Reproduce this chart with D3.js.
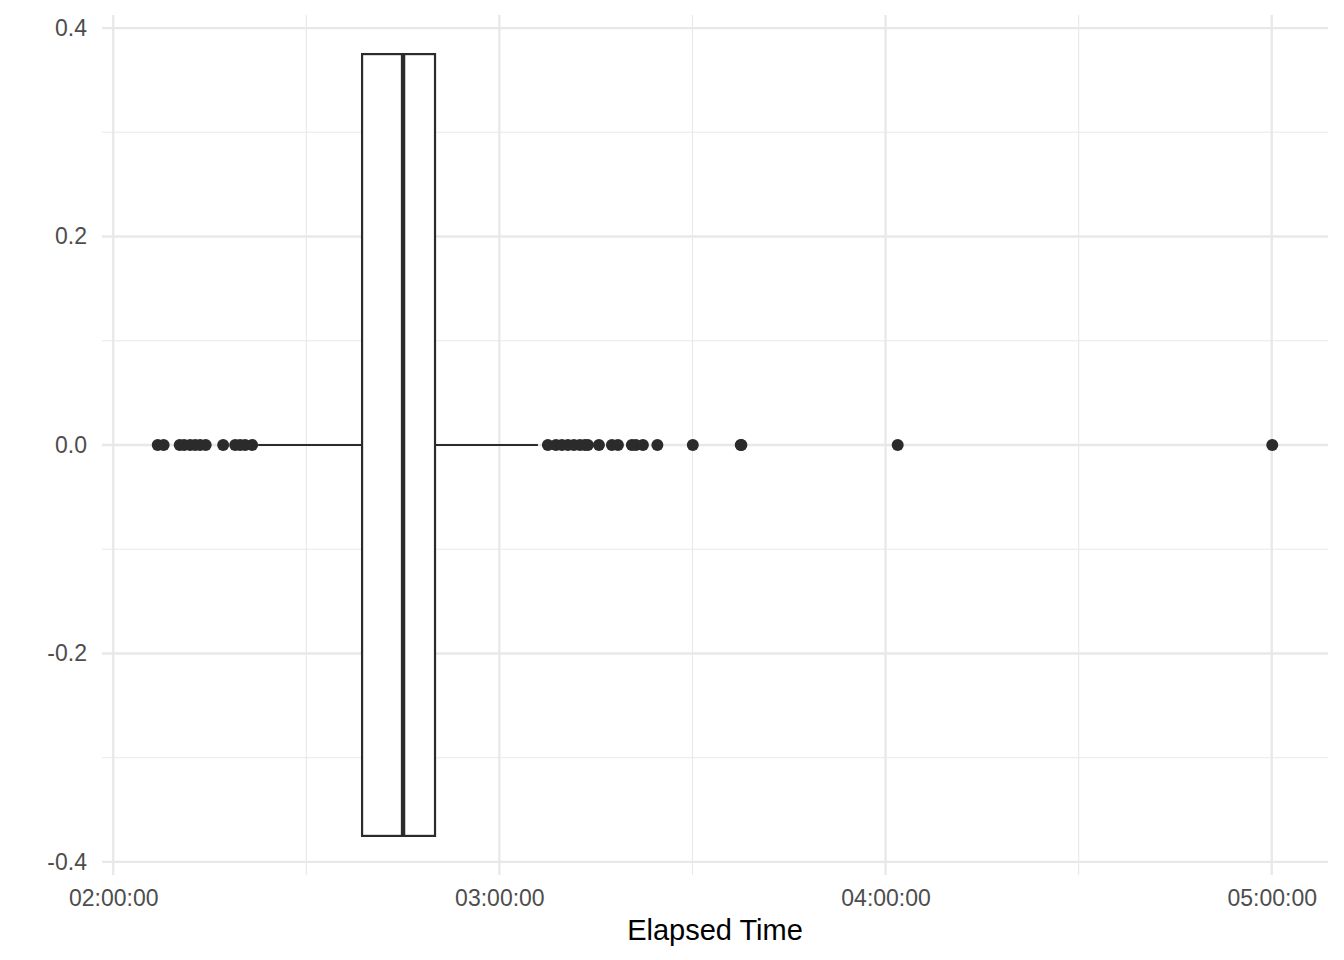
<!DOCTYPE html>
<html>
<head>
<meta charset="utf-8">
<script src="https://cdn.jsdelivr.net/npm/d3@7"></script>
<style>
  html, body { margin: 0; padding: 0; background: #ffffff; }
  svg { display: block; }
  text { font-family: "Liberation Sans", Arial, Helvetica, sans-serif; }
</style>
</head>
<body>
<svg id="chart" width="1344" height="960"></svg>
<script>
// ---- data (elapsed times, h:mm:ss) ----
const xTickLabels = ["02:00:00", "03:00:00", "04:00:00", "05:00:00"];
const xMinorTickLabels = ["02:30:00", "03:30:00", "04:30:00"];
const yTicks = [-0.4, -0.2, 0.0, 0.2, 0.4];
const yMinorTicks = [-0.3, -0.1, 0.1, 0.3];

const statNames = ["lowerWhisker", "q1", "median", "q3", "upperWhisker"];
const statValues = ["2:22:31", "2:38:40", "2:45:02", "2:50:00", "3:05:59"];

const lowOutliers = ["2:06:55", "2:07:50", "2:10:20", "2:11:01", "2:11:57", "2:12:44",
  "2:13:30", "2:14:22", "2:17:05", "2:18:57", "2:19:43", "2:20:30", "2:21:35"];
const highOutliers = ["3:07:32", "3:08:47", "3:09:43", "3:10:39", "3:11:35", "3:12:31",
  "3:13:17", "3:13:45", "3:15:28", "3:17:29", "3:18:25", "3:20:35", "3:21:12",
  "3:22:18", "3:24:33", "3:30:03", "3:37:30", "3:37:36", "4:01:53", "5:00:05"];

const axisTitle = "Elapsed Time";

// ---- helpers ----
const toSec = s => { const p = s.split(":").map(Number); return p[0] * 3600 + p[1] * 60 + p[2]; };
const stat = name => toSec(statValues[statNames.indexOf(name)]);

const outliers = lowOutliers.concat(highOutliers).map(toSec);
const allVals = outliers.concat(statValues.map(toSec));
const [dmin, dmax] = d3.extent(allVals);
const pad = (dmax - dmin) * 0.05;

const panel = { left: 102, right: 1328, top: 15, bottom: 875 };

const x = d3.scaleLinear().domain([dmin - pad, dmax + pad]).range([panel.left, panel.right]);
const y = d3.scaleLinear().domain([-0.4125, 0.4125]).range([panel.bottom, panel.top]);

const svg = d3.select("#chart");
const grid = "#E8E8E8";

// minor grid
svg.append("g").selectAll("line").data(yMinorTicks).join("line")
  .attr("x1", panel.left).attr("x2", panel.right)
  .attr("y1", d => y(d)).attr("y2", d => y(d))
  .attr("stroke", grid).attr("stroke-width", 1.1);
svg.append("g").selectAll("line").data(xMinorTickLabels.map(toSec)).join("line")
  .attr("y1", panel.top).attr("y2", panel.bottom)
  .attr("x1", d => x(d)).attr("x2", d => x(d))
  .attr("stroke", grid).attr("stroke-width", 1.1);
// major grid
svg.append("g").selectAll("line").data(yTicks).join("line")
  .attr("x1", panel.left).attr("x2", panel.right)
  .attr("y1", d => y(d)).attr("y2", d => y(d))
  .attr("stroke", grid).attr("stroke-width", 2.3);
svg.append("g").selectAll("line").data(xTickLabels.map(toSec)).join("line")
  .attr("y1", panel.top).attr("y2", panel.bottom)
  .attr("x1", d => x(d)).attr("x2", d => x(d))
  .attr("stroke", grid).attr("stroke-width", 2.3);

// axes (labels only)
const xAxis = d3.axisBottom(x)
  .tickValues(xTickLabels.map(toSec))
  .tickFormat((d, i) => xTickLabels[i])
  .tickSize(0).tickPadding(0);
const gx = svg.append("g").attr("transform", `translate(0,${panel.bottom})`).call(xAxis);
gx.select(".domain").remove();
gx.selectAll("text").attr("fill", "#4D4D4D").attr("font-size", 23).attr("dy", "1.36em")
  .style("font-family", '"Liberation Sans", Arial, sans-serif');

const yAxis = d3.axisLeft(y)
  .tickValues(yTicks)
  .tickFormat(d3.format(".1f"))
  .tickSize(0).tickPadding(15);
const gy = svg.append("g").attr("transform", `translate(${panel.left},0)`).call(yAxis);
gy.select(".domain").remove();
gy.selectAll("text").attr("fill", "#4D4D4D").attr("font-size", 23)
  .style("font-family", '"Liberation Sans", Arial, sans-serif')
  .text(d => d3.format(".1f")(d).replace("−", "-"));

// axis title
svg.append("text")
  .attr("x", (panel.left + panel.right) / 2).attr("y", 940)
  .attr("text-anchor", "middle").attr("font-size", 29).attr("fill", "#000000")
  .text(axisTitle);

// ---- boxplot ----
const ink = "#2B2B2B";
const g = svg.append("g");
// whiskers
g.append("line")
  .attr("x1", x(stat("lowerWhisker"))).attr("x2", x(stat("q1")))
  .attr("y1", y(0)).attr("y2", y(0))
  .attr("stroke", ink).attr("stroke-width", 2.2);
g.append("line")
  .attr("x1", x(stat("q3"))).attr("x2", x(stat("upperWhisker")))
  .attr("y1", y(0)).attr("y2", y(0))
  .attr("stroke", ink).attr("stroke-width", 2.2);
// box
g.append("rect")
  .attr("x", x(stat("q1"))).attr("width", x(stat("q3")) - x(stat("q1")))
  .attr("y", y(0.375)).attr("height", y(-0.375) - y(0.375))
  .attr("fill", "#ffffff").attr("stroke", ink).attr("stroke-width", 2.2);
// median
g.append("line")
  .attr("x1", x(stat("median"))).attr("x2", x(stat("median")))
  .attr("y1", y(0.375)).attr("y2", y(-0.375))
  .attr("stroke", ink).attr("stroke-width", 4.4);
// outliers
g.append("g").selectAll("circle").data(outliers).join("circle")
  .attr("cx", d => x(d)).attr("cy", y(0)).attr("r", 6)
  .attr("fill", ink);
</script>
</body>
</html>
